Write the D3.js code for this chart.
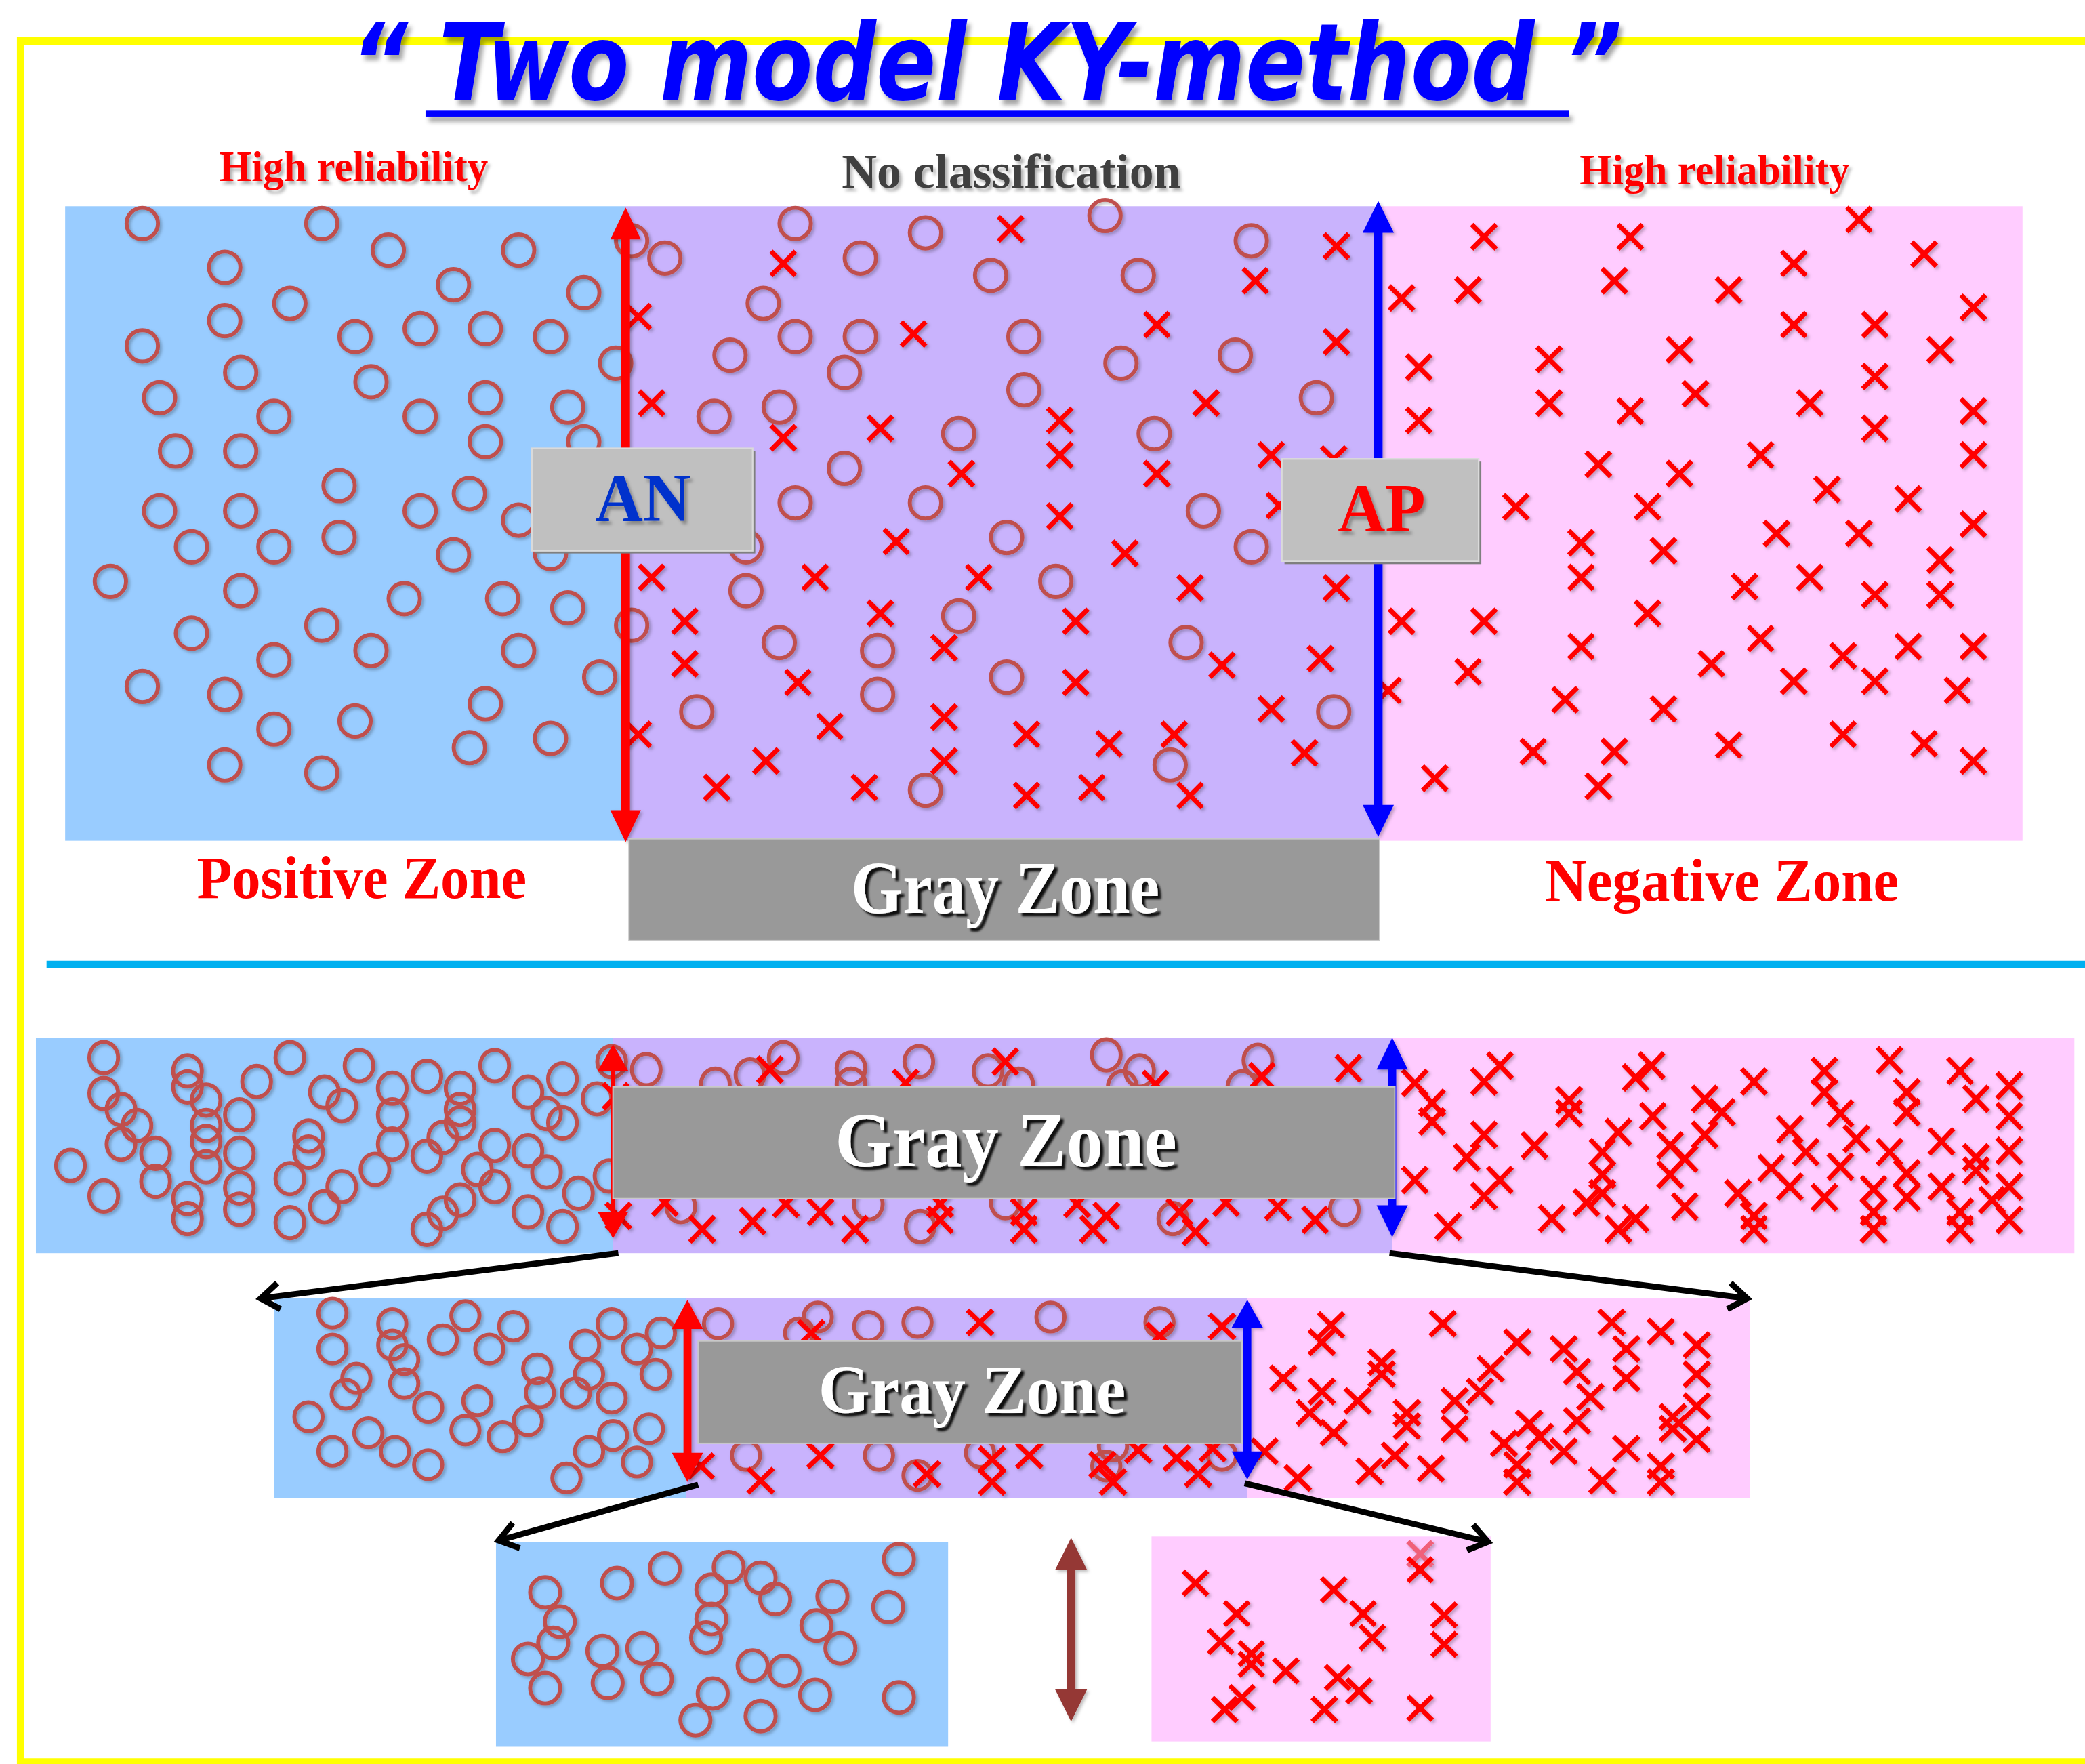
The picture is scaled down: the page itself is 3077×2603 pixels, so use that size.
<!DOCTYPE html>
<html>
<head>
<meta charset="utf-8">
<script src="https://cdn.jsdelivr.net/npm/d3@7"></script>
<style>
  html, body { margin: 0; padding: 0; background: #fff; }
  svg { display: block; }
</style>
</head>
<body>
<script>
"use strict";

const W = 3077, H = 2603;

// slide units (the reference read at 1568 wide) -> screen pixels
const x = d3.scaleLinear().domain([0, 1568]).range([0, W]);
const y = d3.scaleLinear().domain([0, 1326]).range([0, H]);
const k = W / 1568;

// ---------------- data ----------------
const titleText = "\u201C Two model KY-method \u201D";
const headerLabels = ["High reliability", "No classification", "High reliability"];
const zoneLabels = ["Positive Zone", "Gray Zone", "Negative Zone"];
const boxLabels = ["AN", "AP"];

// top panel
const topCircles = [[107,168],[242,168],[292,188],[390,188],[169,201],[341,214],[439,220],[218,228],[169,241],[267,253],[316,247],[365,247],[414,253],[107,260],[463,273],[181,280],[279,287],[120,299],[206,313],[316,313],[365,299],[427,306],[365,332],[439,332],[132,339],[181,339],[255,365],[353,371],[120,384],[181,384],[316,384],[390,391],[144,411],[206,411],[255,404],[341,417],[414,416],[83,437],[181,444],[304,450],[378,450],[427,457],[144,476],[242,470],[475,470],[279,489],[390,489],[206,496],[451,509],[107,516],[169,522],[365,529],[524,535],[206,548],[267,542],[353,562],[414,555],[169,575],[242,581],[475,181],[500,194],
  [598,168],[696,175],[831,162],[941,181],[647,194],[745,207],[856,207],[574,228],[598,253],[647,253],[770,253],[549,267],[635,280],[843,273],[929,267],[770,293],[990,299],[537,313],[586,306],[721,326],[868,326],[635,352],[598,378],[696,378],[905,384],[757,404],[941,411],[561,411],[561,444],[794,437],[721,463],[586,483],[660,489],[892,483],[757,509],[660,522],[1003,535],[880,575],[696,594]];
const topCrosses = [[480,238],[490,303],[490,434],[515,467],[515,499],[480,552],
  [760,172],[1005,185],[589,198],[944,211],[687,251],[870,244],[1005,257],[907,303],[589,329],[662,322],[797,316],[797,342],[723,356],[870,356],[956,342],[1003,345],[962,380],[797,388],[674,407],[846,416],[613,434],[736,434],[895,442],[1005,442],[662,461],[809,467],[710,487],[600,513],[809,513],[919,500],[993,495],[956,533],[624,546],[710,539],[772,552],[834,559],[883,552],[981,566],[576,572],[710,572],[539,592],[650,592],[772,598],[821,592],[895,598],
  [1116,178],[1226,178],[1398,165],[1447,191],[1349,198],[1054,224],[1104,218],[1214,211],[1300,218],[1484,231],[1349,244],[1410,244],[1263,263],[1459,263],[1067,276],[1165,270],[1410,283],[1275,296],[1165,303],[1226,309],[1361,303],[1067,316],[1484,309],[1410,322],[1202,349],[1263,356],[1324,342],[1484,342],[1374,368],[1435,375],[1140,381],[1239,381],[1189,408],[1251,414],[1336,401],[1398,401],[1484,394],[1459,421],[1189,434],[1312,441],[1361,434],[1410,447],[1459,447],[1054,467],[1116,467],[1239,461],[1189,486],[1324,480],[1386,493],[1435,486],[1484,486],[1104,505],[1287,499],[1349,512],[1410,512],[1472,519],[1044,519],[1177,526],[1251,533],[1386,552],[1447,559],[1153,565],[1214,565],[1300,560],[1484,572],[1079,585],[1202,591]];

// second panel
const p2Circles = [[78,795],[78,822],[78,899],[91,834],[91,860],[103,846],[53,876],[117,867],[117,888],[141,805],[141,817],[141,901],[141,916],[155,827],[155,846],[155,858],[155,877],[180,838],[180,867],[180,893],[180,909],[193,813],[218,795],[218,886],[218,919],[232,854],[232,866],[244,821],[244,907],[257,831],[257,892],[270,801],[282,879],[295,818],[295,838],[295,860],[321,809],[321,869],[321,924],[333,855],[333,912],[346,818],[346,834],[346,844],[346,902],[359,879],[372,801],[372,861],[372,892],[397,821],[397,865],[397,911],[411,837],[411,881],[423,811],[423,844],[423,922],[435,897],[449,826],[460,798],[458,884],
  [486,804],[512,907],[538,815],[564,808],[589,795],[640,803],[640,815],[653,905],[691,798],[692,922],[743,805],[766,815],[756,904],[832,793],[857,805],[946,797],[934,817],[882,916],[1011,909],[844,817]];
const p2Crosses = [[579,804],[681,814],[756,798],[500,904],[528,924],[566,918],[591,905],[617,911],[643,924],[707,905],[707,917],[770,911],[770,924],[465,914],[463,824],[1014,803],[949,809],[869,815],[810,905],[832,914],[822,924],[887,911],[899,926],[922,904],[961,907],[989,917],
  [1128,801],[1116,813],[1242,801],[1230,810],[1319,813],[1372,805],[1372,821],[1421,797],[1474,805],[1511,816],[1064,814],[1077,829],[1077,843],[1180,827],[1180,837],[1282,826],[1295,836],[1243,839],[1384,837],[1434,821],[1434,836],[1486,826],[1511,839],[1116,853],[1103,870],[1154,861],[1217,851],[1205,866],[1256,861],[1282,853],[1346,849],[1358,866],[1396,856],[1421,866],[1460,858],[1486,870],[1511,865],[1064,887],[1128,887],[1116,899],[1205,883],[1205,897],[1256,883],[1267,871],[1193,904],[1267,907],[1307,897],[1332,878],[1346,892],[1384,877],[1372,900],[1409,894],[1434,882],[1434,900],[1460,892],[1486,880],[1498,902],[1511,892],[1089,922],[1167,916],[1217,924],[1230,916],[1319,924],[1319,914],[1409,924],[1409,911],[1474,924],[1474,911],[1511,917]];

// third panel
const p3Circles = [[250,987],[250,1014],[268,1036],[260,1048],[232,1065],[277,1077],[250,1091],[295,995],[295,1011],[304,1022],[304,1040],[322,1058],[333,1007],[350,989],[368,1014],[386,997],[359,1053],[350,1075],[378,1080],[297,1091],[322,1101],[404,1029],[406,1047],[397,1068],[440,1011],[460,995],[433,1047],[460,1051],[443,1033],[479,1014],[493,1033],[497,1002],[488,1074],[461,1079],[426,1111],[443,1091],[479,1099],
  [540,995],[561,1094],[615,990],[653,997],[690,994],[790,990],[872,994],[601,1002],[661,1094],[690,1109],[737,1092],[832,1102],[837,1087],[919,1094]];
const p3Crosses = [[610,1002],[737,994],[919,997],[872,1004],[617,1094],[572,1113],[697,1108],[746,1097],[746,1114],[774,1094],[829,1101],[837,1114],[856,1090],[885,1096],[901,1108],[912,1089],[951,1091],[527,1102],
  [1001,996],[994,1009],[1085,995],[1141,1009],[1212,994],[1249,1001],[1276,1011],[1176,1014],[1223,1014],[1039,1024],[1039,1033],[1121,1029],[1186,1031],[1223,1036],[1276,1033],[965,1036],[994,1046],[1021,1053],[1113,1046],[1094,1053],[1196,1050],[1276,1057],[985,1062],[1058,1062],[1058,1072],[1094,1074],[1003,1077],[1150,1070],[1186,1068],[1258,1065],[1258,1074],[1276,1082],[1131,1085],[1158,1080],[1176,1091],[1223,1089],[1049,1094],[1030,1106],[1076,1104],[1141,1101],[1141,1114],[1205,1113],[1249,1102],[1249,1114],[976,1111]];

// bottom pair
const p4Circles = [[676,1172],[500,1179],[548,1178],[464,1190],[572,1186],[410,1197],[535,1195],[583,1202],[626,1200],[668,1208],[421,1219],[535,1217],[614,1222],[416,1235],[531,1231],[453,1241],[483,1239],[632,1239],[397,1247],[566,1252],[590,1256],[457,1265],[494,1262],[410,1269],[536,1273],[613,1274],[676,1276],[523,1293],[572,1290]];
const p4Crosses = [[1068,1180],[899,1190],[1003,1195],[930,1213],[1025,1213],[1086,1214],[1086,1236],[1032,1231],[918,1234],[941,1243],[941,1251],[967,1256],[1006,1261],[1022,1271],[934,1276],[921,1285],[996,1285],[1068,1284]];
const p4Faded = [[1068,1168]];

// ---------------- styles ----------------
const C = {
  pos: "#99CCFF", gray: "#C9B3FD", neg: "#FFCCFF",
  circle: "#C0504D", cross: "#FF0000",
  zoneBox: "#999999", labelBox: "#C0C0C0",
  yellow: "#FFFF00", cyan: "#00B0F0"
};
const serif = "'Liberation Serif', 'Times New Roman', serif";

const svg = d3.select("body").append("svg")
  .attr("width", W).attr("height", H)
  .style("background", "#fff");

const defs = svg.append("defs");
function shadow(id, dx, dy, sd, op, col) {
  defs.append("filter").attr("id", id)
    .attr("x", "-20%").attr("y", "-20%").attr("width", "140%").attr("height", "140%")
    .append("feDropShadow")
    .attr("dx", dx * k).attr("dy", dy * k).attr("stdDeviation", sd * k)
    .attr("flood-color", col || "#000").attr("flood-opacity", op);
}
shadow("sh", 1.5, 1.5, 1, 0.25);
shadow("shTitle", 2.5, 4, 1.5, 0.35);
shadow("shLabel", 2, 2.5, 1.2, 0.3);
shadow("shWhite", 2.5, 2.5, 0.8, 0.9);

function rect(x0, y0, x1, y1, fill) {
  return svg.append("rect")
    .attr("x", x(x0)).attr("y", y(y0))
    .attr("width", x(x1) - x(x0)).attr("height", y(y1) - y(y0))
    .attr("fill", fill);
}

function hline(x0, x1, yy, w, col) {
  svg.append("line").attr("x1", x(x0)).attr("x2", x(x1))
    .attr("y1", y(yy)).attr("y2", y(yy))
    .attr("stroke", col).attr("stroke-width", w * k);
}

function vline(xx, y0, y1, w, col) {
  svg.append("line").attr("x1", x(xx)).attr("x2", x(xx))
    .attr("y1", y(y0)).attr("y2", y(y1))
    .attr("stroke", col).attr("stroke-width", w * k);
}

// yellow frame and separator
hline(13, 1568, 31, 6, C.yellow);
vline(15.5, 28, 1326, 5.6, C.yellow);
hline(13, 1568, 1324, 5, C.yellow);
hline(35, 1568, 725, 5.5, C.cyan);

// three-zone panels
const panels = [
  { x0: 49, x1: 470, x2: 1037, x3: 1521, y0: 155, y1: 632 },
  { x0: 27, x1: 461, x2: 1047, x3: 1560, y0: 780, y1: 942 },
  { x0: 206, x1: 516, x2: 938, x3: 1316, y0: 976, y1: 1126 }
];
panels.forEach(p => {
  rect(p.x0, p.y0, p.x1, p.y1, C.pos);
  rect(p.x1, p.y0, p.x2, p.y1, C.gray);
  rect(p.x2, p.y0, p.x3, p.y1, C.neg);
});
rect(373, 1159, 713, 1313, C.pos);
rect(866, 1155, 1121, 1309, C.neg);

// markers
const marks = svg.append("g").attr("filter", "url(#sh)");

function drawCircles(pts, rx, ry) {
  marks.append("g").selectAll("ellipse").data(pts).join("ellipse")
    .attr("cx", d => x(d[0])).attr("cy", d => y(d[1]))
    .attr("rx", rx * k).attr("ry", ry * k)
    .attr("fill", "none").attr("stroke", C.circle).attr("stroke-width", 3 * k);
}

function drawCrosses(pts, hx, hy, col) {
  marks.append("g").selectAll("path").data(pts).join("path")
    .attr("d", d => {
      const cx = x(d[0]), cy = y(d[1]), a = hx * k, b = hy * k;
      return `M${cx - a},${cy - b}L${cx + a},${cy + b}M${cx - a},${cy + b}L${cx + a},${cy - b}`;
    })
    .attr("fill", "none").attr("stroke", col || C.cross).attr("stroke-width", 3.6 * k);
}

drawCircles(topCircles, 11.8, 11.8);
drawCrosses(topCrosses, 9.2, 9.2);
drawCircles(p2Circles, 10.8, 11.8);
drawCrosses(p2Crosses, 9.2, 9.6);
drawCircles(p3Circles, 10.6, 10.8);
drawCrosses(p3Crosses, 9.5, 9.2);
drawCircles(p4Circles, 11.3, 11.5);
drawCrosses(p4Faded, 9.2, 9.2, "#F0607A");
drawCrosses(p4Crosses, 9.2, 9.0);

// vertical double arrows
function doubleArrow(cx, top, bot, col, shaft, headW, headL) {
  const g = svg.append("g").attr("filter", "url(#sh)");
  g.append("line")
    .attr("x1", x(cx)).attr("x2", x(cx))
    .attr("y1", y(top + headL - 1)).attr("y2", y(bot - headL + 1))
    .attr("stroke", col).attr("stroke-width", shaft * k);
  const hw = headW / 2;
  g.append("path")
    .attr("d", `M${x(cx)},${y(top)}L${x(cx + hw)},${y(top + headL)}L${x(cx - hw)},${y(top + headL)}Z` +
               `M${x(cx)},${y(bot)}L${x(cx + hw)},${y(bot - headL)}L${x(cx - hw)},${y(bot - headL)}Z`)
    .attr("fill", col);
}

doubleArrow(470.5, 156, 633, "#FF0000", 6.5, 23, 24);
doubleArrow(1036.5, 151, 629, "#0000FF", 6.5, 23.5, 24);
doubleArrow(461, 785, 931, "#FF0000", 3.5, 23, 20);
doubleArrow(1047, 780, 930, "#0000FF", 6, 23.5, 24);
doubleArrow(517, 977, 1114, "#FF0000", 6, 23.5, 22);
doubleArrow(938, 977, 1112, "#0000FF", 6, 23.5, 21);
doubleArrow(805.5, 1156, 1294, "#953735", 6.5, 24, 24);

// gray zone boxes
function zoneBox(x0, y0, x1, y1, tx, base, size, len) {
  rect(x0, y0, x1, y1, C.zoneBox).attr("stroke", "#C8C8C8").attr("stroke-width", 1 * k);
  svg.append("text")
    .attr("x", x(tx)).attr("y", y(base))
    .attr("textLength", len * k).attr("lengthAdjust", "spacingAndGlyphs")
    .attr("font-family", serif).attr("font-weight", "bold")
    .attr("font-size", size * k).attr("fill", "#fff")
    .attr("filter", "url(#shWhite)")
    .text(zoneLabels[1]);
}
zoneBox(473, 630.5, 1037.5, 707, 640, 686, 56, 232);
zoneBox(461, 817, 1049, 901, 628, 876.5, 58, 257);
zoneBox(525, 1008, 934, 1085, 615.5, 1062, 52, 231);

// AN / AP boxes
function labelBox(x0, y0, x1, y1, label, col, tx, base, len) {
  const g = svg.append("g");
  g.append("rect").attr("x", x(x0)).attr("y", y(y0))
    .attr("width", x(x1) - x(x0)).attr("height", y(y1) - y(y0))
    .attr("fill", "#7F7F7F").attr("transform", `translate(${2 * k},${2 * k})`);
  g.append("rect").attr("x", x(x0)).attr("y", y(y0))
    .attr("width", x(x1) - x(x0)).attr("height", y(y1) - y(y0))
    .attr("fill", C.labelBox).attr("stroke", "#DADADA").attr("stroke-width", 1.2 * k);
  g.append("text")
    .attr("x", x(tx)).attr("y", y(base))
    .attr("textLength", len * k).attr("lengthAdjust", "spacingAndGlyphs")
    .attr("font-family", serif).attr("font-weight", "bold")
    .attr("font-size", 52 * k).attr("fill", col)
    .attr("filter", "url(#shLabel)")
    .text(label);
}
labelBox(400, 337, 566, 414, boxLabels[0], "#0033CC", 447.5, 391.5, 72);
labelBox(964, 345, 1112, 422, boxLabels[1], "#FF0000", 1006, 399.5, 66);

// texts
function label(t, tx, base, size, len, col, filt) {
  const el = svg.append("text")
    .attr("x", x(tx)).attr("y", y(base))
    .attr("textLength", len * k).attr("lengthAdjust", "spacingAndGlyphs")
    .attr("font-family", serif).attr("font-weight", "bold")
    .attr("font-size", size * k).attr("fill", col)
    .text(t);
  if (filt) el.attr("filter", filt);
}
label(headerLabels[0], 165, 136, 32, 202, "#FF0000", "url(#shLabel)");
label(headerLabels[1], 633, 141, 37, 255, "#404040", "url(#shLabel)");
label(headerLabels[2], 1188, 138.5, 32, 203, "#FF0000", "url(#shLabel)");
label(zoneLabels[0], 148, 675, 45, 248, "#FF0000");
label(zoneLabels[2], 1162, 677, 45, 266, "#FF0000");

// title (one text, quotes included) and its underline
const tg = svg.append("g").attr("filter", "url(#shTitle)");
tg.append("text").attr("x", x(264)).attr("y", y(74.7))
  .attr("textLength", 956 * k).attr("lengthAdjust", "spacingAndGlyphs")
  .attr("font-family", "'DejaVu Sans', Verdana, sans-serif")
  .attr("font-weight", "bold").attr("font-style", "italic")
  .attr("font-size", 80 * k).attr("fill", "#0000FF").text(titleText);
tg.append("rect").attr("x", x(320)).attr("y", y(83.2))
  .attr("width", x(1180) - x(320)).attr("height", 4.4 * k).attr("fill", "#0000FF");

// black zoom arrows
function lineArrow(x1, y1, x2, y2) {
  const X1 = x(x1), Y1 = y(y1), X2 = x(x2), Y2 = y(y2);
  const ang = Math.atan2(Y2 - Y1, X2 - X1);
  const L = 17 * k, spread = 0.62;
  const p1 = [X2 - L * Math.cos(ang - spread), Y2 - L * Math.sin(ang - spread)];
  const p2 = [X2 - L * Math.cos(ang + spread), Y2 - L * Math.sin(ang + spread)];
  svg.append("line").attr("x1", X1).attr("y1", Y1).attr("x2", X2 - 2 * k * Math.cos(ang)).attr("y2", Y2 - 2 * k * Math.sin(ang))
    .attr("stroke", "#000").attr("stroke-width", 4.5 * k);
  svg.append("path").attr("d", `M${p1}L${X2},${Y2}L${p2}`)
    .attr("fill", "none").attr("stroke", "#000").attr("stroke-width", 4.5 * k)
    .attr("stroke-linejoin", "miter").attr("stroke-miterlimit", 10);
}
lineArrow(465, 942, 196, 976);
lineArrow(1045, 942, 1314, 976);
lineArrow(525, 1116, 375, 1158);
lineArrow(936, 1115, 1119, 1159);
</script>
</body>
</html>
